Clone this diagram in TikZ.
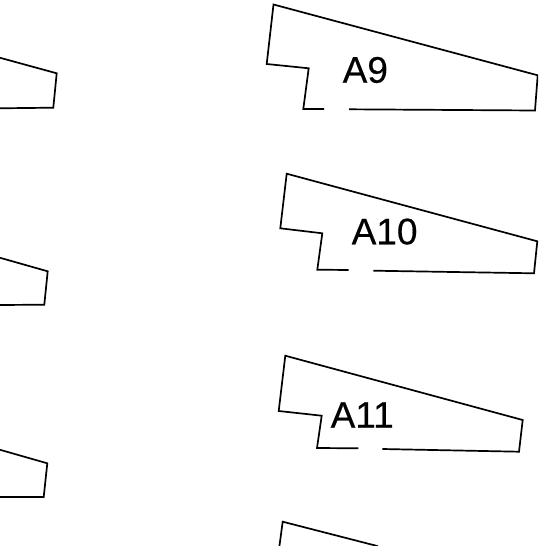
\documentclass[tikz,border=0pt]{standalone}
\usepackage{fontspec}
\setmainfont{Liberation Sans}
\newfontfamily\roomfont[FakeBold=0.35]{Liberation Sans}
\tikzset{
  outline/.style={draw=black,line width=1.7pt,line join=miter,line cap=butt},
  roomlabel/.style={anchor=base west,inner sep=0pt,outer sep=0pt,font=\roomfont\fontsize{37}{37}\selectfont,text=black}
}
\begin{document}
\begin{tikzpicture}[x=1pt,y=-1pt]
\useasboundingbox (0,0) rectangle (538,546);
\clip (0,0) rectangle (538,546);
% left fragments
\draw[outline] (-1,57.5) -- (56.7,73.3) -- (53.3,107.7) -- (-1,108.3);
\draw[outline] (-1,257.5) -- (47.7,271.3) -- (44.3,304.7) -- (-1,305);
\draw[outline] (-1,449.5) -- (47.3,463.3) -- (43.7,497) -- (-1,497);
% A9
\draw[outline] (324,109) -- (303.3,109) -- (308.7,68.3) -- (266.7,64) -- (273.5,4.5) -- (537.7,75.3) -- (535,110.5) -- (349,109.3);
\node[roomlabel] (a9) at (342.7,82.7) {A9};
% A10
\draw[outline] (348.7,270) -- (317.3,269.7) -- (322.3,233.3) -- (280.3,228.3) -- (286.7,173.7) -- (537.3,241.3) -- (534,273.3) -- (373.3,270.7);
\node[roomlabel] (a10) at (351.7,244.3) {A10};
% A11
\draw[outline] (358.3,448.3) -- (317,448) -- (321.7,415.7) -- (278.7,411) -- (285.3,355.7) -- (522.7,420) -- (519,451.7) -- (382.3,449);
\node[roomlabel] (a11) at (330.7,427.7) {A11};
% bottom fragment
\draw[outline] (279.3,547) -- (282.7,521.7) -- (378,546.2);
\end{tikzpicture}
\end{document}
